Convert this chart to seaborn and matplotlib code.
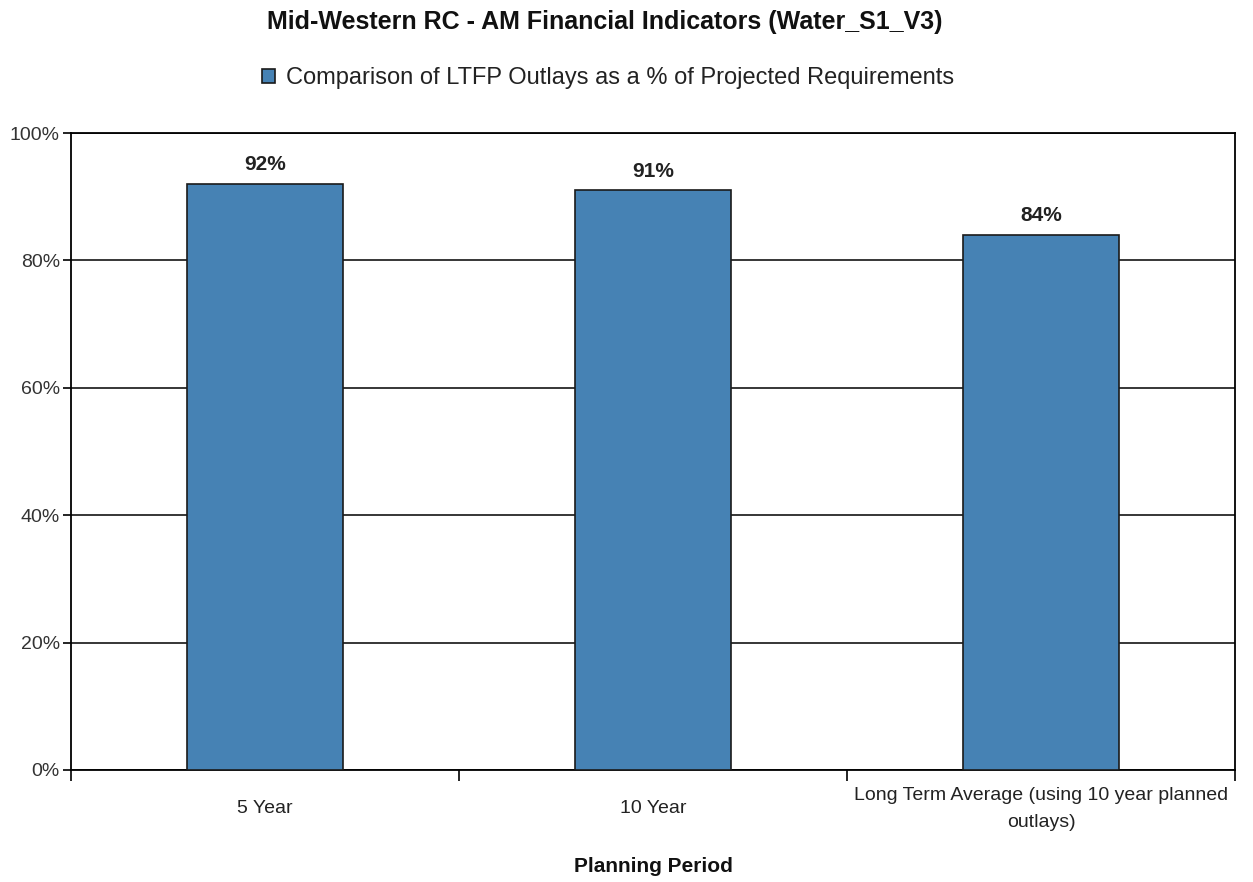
import matplotlib
matplotlib.use("Agg")
import matplotlib.pyplot as plt
from matplotlib.ticker import FuncFormatter, FixedLocator, NullFormatter
from matplotlib.patches import Patch
import seaborn as sns
import pandas as pd

# Data
periods = ["5 Year", "10 Year", "Long Term Average (using 10 year planned\noutlays)"]
outlay_pct = [92, 91, 84]
series_name = "Comparison of LTFP Outlays as a % of Projected Requirements"
title = "Mid-Western RC - AM Financial Indicators (Water_S1_V3)"
x_label = "Planning Period"
y_ticks = [0, 20, 40, 60, 80, 100]

sns.set_theme(style="white")
plt.rcParams["font.family"] = ["Liberation Sans", "DejaVu Sans"]

bar_color = "#4682B4"
df = pd.DataFrame({"period": periods, "pct": outlay_pct})

fig = plt.figure(figsize=(12.53, 8.82), dpi=100)
ax = fig.add_axes([71 / 1253, 112 / 882, (1235 - 71) / 1253, (770 - 133) / 882])

sns.barplot(data=df, x="period", y="pct", color=bar_color, width=0.4,
            edgecolor="#1a1a1a", linewidth=1.2, saturation=1, ax=ax, zorder=3)

ax.set_ylim(0, 100)
ax.set_xlim(-0.5, 2.5)
ax.yaxis.set_major_locator(FixedLocator(y_ticks))
ax.yaxis.set_major_formatter(FuncFormatter(lambda v, _: f"{v:.0f}%"))
ax.grid(axis="y", color="black", linewidth=1.1, zorder=0)
ax.set_axisbelow(True)

# category labels at bar centres, tick marks at category boundaries
ax.set_xticks(range(len(periods)))
ax.set_xticklabels(periods, fontsize=14, color="#222222", va="center", linespacing=1.75)
ax.tick_params(axis="x", which="major", length=0, pad=28)
ax.set_xticks([-0.5, 0.5, 1.5, 2.5], minor=True)
ax.xaxis.set_minor_formatter(NullFormatter())
ax.tick_params(axis="x", which="minor", length=8, width=1.2, color="black", direction="out", bottom=True)
ax.tick_params(axis="y", which="major", length=6, width=1.2, color="black", direction="out",
               left=True, labelsize=14, labelcolor="#333333", pad=2)

for s in ax.spines.values():
    s.set_color("black")
    s.set_linewidth(1.3)

ax.set_xlabel(x_label, fontsize=15, fontweight="bold", color="#111111", va="center")
ax.xaxis.set_label_coords(0.5, (770 - 866) / 637)
ax.set_ylabel("")

for c in ax.containers:
    ax.bar_label(c, labels=[f"{v}%" for v in outlay_pct], padding=7,
                 fontsize=15, fontweight="bold", color="#222222")

fig.text(605 / 1253, 1 - 22 / 882, title, ha="center", va="center",
         fontsize=18, fontweight="bold", color="#111111")

handle = Patch(facecolor=bar_color, edgecolor="#1a1a1a", linewidth=1.2)
fig.legend([handle], [series_name], loc="center", bbox_to_anchor=(608 / 1253, 1 - 78 / 882),
           frameon=False, fontsize=17, handlelength=0.55, handleheight=0.55,
           handletextpad=0.5, labelcolor="#222222")

fig.savefig("out.png", dpi=100, facecolor="white")
